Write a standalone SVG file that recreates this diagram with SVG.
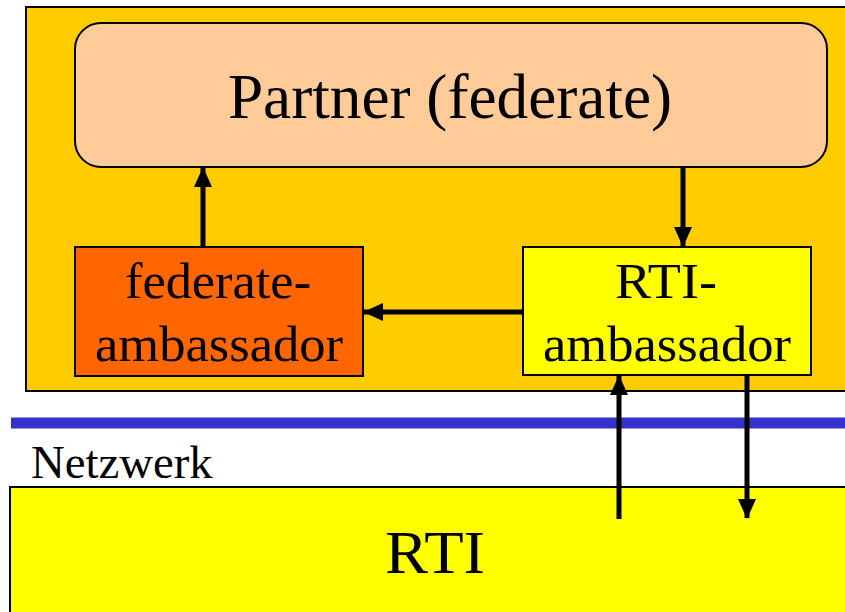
<svg xmlns="http://www.w3.org/2000/svg" width="845" height="612" viewBox="0 0 845 612">
<style>
.box{stroke:#000;stroke-width:2}
.conn{stroke:#000;stroke-width:5;fill:none}
</style>
<defs>
<marker id="ah" markerUnits="userSpaceOnUse" markerWidth="20" markerHeight="20" viewBox="0 0 20 20" refX="19" refY="10" orient="auto">
<path d="M0,1 L20,10 L0,19 Z" fill="#000"/>
</marker>
</defs>
<rect width="845" height="612" fill="#fff"/>
<g id="container">
<rect class="box" x="26" y="7" width="830" height="384" fill="#FFCC00"/>
</g>
<g id="network">
<rect x="11" y="417.5" width="840" height="11" fill="#3333CC"/>
<text transform="translate(31,478) scale(1.15)" font-size="40" font-family="'Liberation Serif'" text-anchor="start" textLength="158" lengthAdjust="spacingAndGlyphs">Netzwerk</text>
</g>
<g id="rti">
<rect class="box" x="10" y="487" width="845" height="140" fill="#FFFF00"/>
<text transform="translate(435,573) scale(1.525)" font-size="40" font-family="'Liberation Serif'" text-anchor="middle" textLength="65.6" lengthAdjust="spacingAndGlyphs">RTI</text>
</g>
<g id="partner">
<rect class="box" x="75" y="23" width="752" height="144" rx="26" ry="26" fill="#FFCC99"/>
<text transform="translate(450,118) scale(1.575)" font-size="40" font-family="'Liberation Serif'" text-anchor="middle" textLength="282" lengthAdjust="spacingAndGlyphs">Partner (federate)</text>
</g>
<g id="federate-ambassador">
<rect class="box" x="75" y="247" width="288" height="129" fill="#FF6600"/>
<text transform="translate(218,298) scale(1.275)" font-size="40" font-family="'Liberation Serif'" text-anchor="middle" textLength="146" lengthAdjust="spacingAndGlyphs">federate-</text>
<text transform="translate(219,361) scale(1.275)" font-size="40" font-family="'Liberation Serif'" text-anchor="middle" textLength="194.5" lengthAdjust="spacingAndGlyphs">ambassador</text>
</g>
<g id="rti-ambassador">
<rect class="box" x="523" y="247" width="288" height="128" fill="#FFFF00"/>
<text transform="translate(666,298) scale(1.275)" font-size="40" font-family="'Liberation Serif'" text-anchor="middle" textLength="80" lengthAdjust="spacingAndGlyphs">RTI-</text>
<text transform="translate(667,361) scale(1.275)" font-size="40" font-family="'Liberation Serif'" text-anchor="middle" textLength="194.5" lengthAdjust="spacingAndGlyphs">ambassador</text>
</g>
<g id="connectors">
<line class="conn" x1="203" y1="246" x2="203" y2="168" marker-end="url(#ah)"/>
<line class="conn" x1="683" y1="168" x2="683" y2="246" marker-end="url(#ah)"/>
<line class="conn" x1="522" y1="312" x2="364" y2="312" marker-end="url(#ah)"/>
<line class="conn" x1="619" y1="519" x2="619" y2="376" marker-end="url(#ah)"/>
<line class="conn" x1="747" y1="376" x2="747" y2="518" marker-end="url(#ah)"/>
</g>
</svg>
